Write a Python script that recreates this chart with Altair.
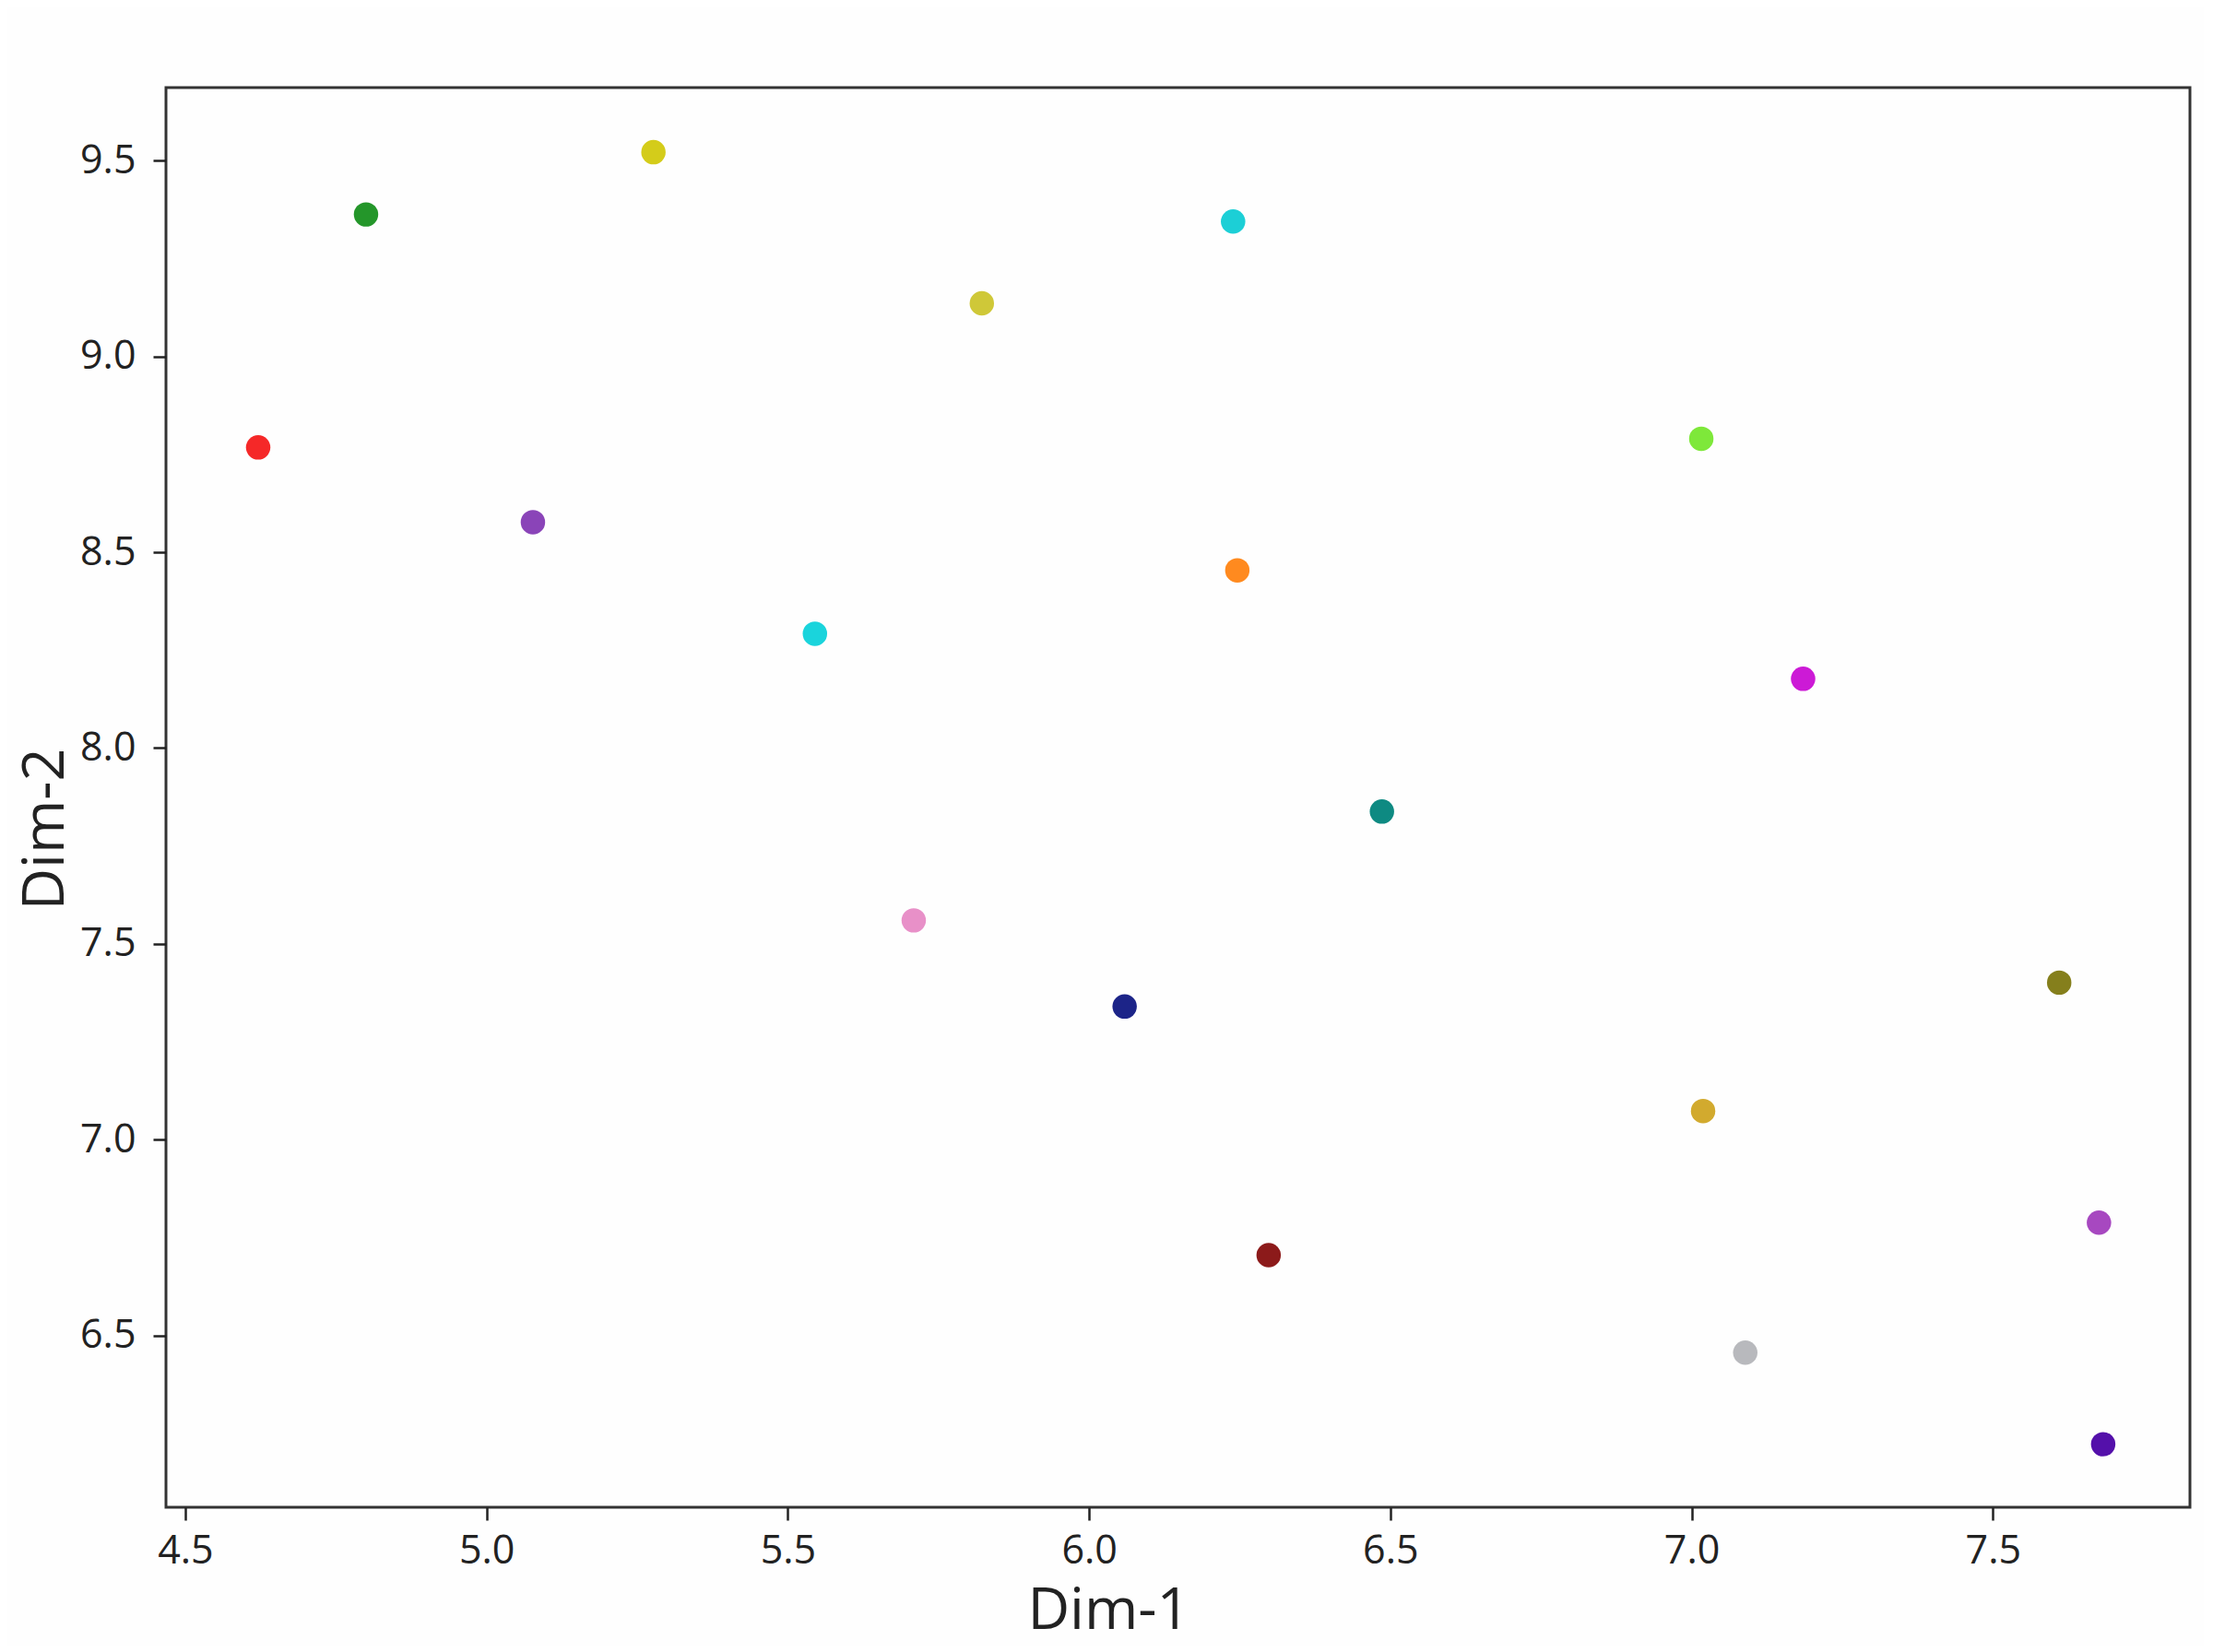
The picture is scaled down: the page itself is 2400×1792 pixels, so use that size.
import altair as alt
import pandas as pd

# Data
labels = [f"P{i}" for i in range(1, 20)]
dim1 = [4.621, 4.800, 5.277, 5.077, 5.545, 5.822, 6.239, 6.246, 5.709, 6.059,
        6.486, 6.298, 7.016, 7.185, 7.610, 7.019, 7.676, 7.089, 7.683]
dim2 = [8.768, 9.363, 9.522, 8.577, 8.292, 9.136, 9.345, 8.454, 7.560, 7.340,
        7.838, 6.705, 8.790, 8.177, 7.401, 7.073, 6.788, 6.456, 6.222]

palette = ["#f52828", "#24962a", "#d4cc1a", "#8a44b8", "#1ad4dc", "#cfc838",
           "#1ccfd6", "#ff8a1f", "#e890c8", "#1c2488", "#0e8a82", "#8c1a1a",
           "#7ee83a", "#cc1ad6", "#857f1c", "#d2aa2e", "#a748c0", "#b8b9bd",
           "#5410aa"]

df = pd.DataFrame({"label": labels, "Dim-1": dim1, "Dim-2": dim2})

FONT = "Open Sans"

chart = alt.Chart(df).mark_circle(size=700, opacity=1).encode(
    x=alt.X("Dim-1:Q",
            scale=alt.Scale(domain=[4.468, 7.827], nice=False, zero=False),
            axis=alt.Axis(title="Dim-1", values=[4.5, 5.0, 5.5, 6.0, 6.5, 7.0, 7.5],
                          format=".1f", grid=False, domain=False,
                          tickSize=14, tickWidth=2.5, tickColor="#222",
                          labelFont=FONT, labelFontSize=43, labelColor="#222",
                          labelPadding=12,
                          titleFont=FONT, titleFontSize=63, titleFontWeight="normal",
                          titleColor="#222", titleX=1022, titleY=112,
                          titleBaseline="middle", titleAlign="center")),
    y=alt.Y("Dim-2:Q",
            scale=alt.Scale(domain=[6.061, 9.687], nice=False, zero=False),
            axis=alt.Axis(title="Dim-2", values=[6.5, 7.0, 7.5, 8.0, 8.5, 9.0, 9.5],
                          format=".1f", grid=False, domain=False,
                          tickSize=14, tickWidth=2.5, tickColor="#222",
                          labelFont=FONT, labelFontSize=43, labelColor="#222",
                          labelPadding=19,
                          titleFont=FONT, titleFontSize=63, titleFontWeight="normal",
                          titleColor="#222", titleX=-131, titleY=804,
                          titleAngle=270, titleBaseline="middle", titleAlign="center")),
    color=alt.Color("label:N", scale=alt.Scale(domain=labels, range=palette), legend=None),
).properties(
    width=2195,
    height=1540,
    autosize=alt.AutoSizeParams(type="none"),
    padding={"left": 172, "top": 87, "right": 15, "bottom": 150},
    background="#fefefe",
).configure_view(
    stroke="#333333",
    strokeWidth=3,
)

chart.save("out.html", embed_options={"renderer": "svg", "actions": False})
